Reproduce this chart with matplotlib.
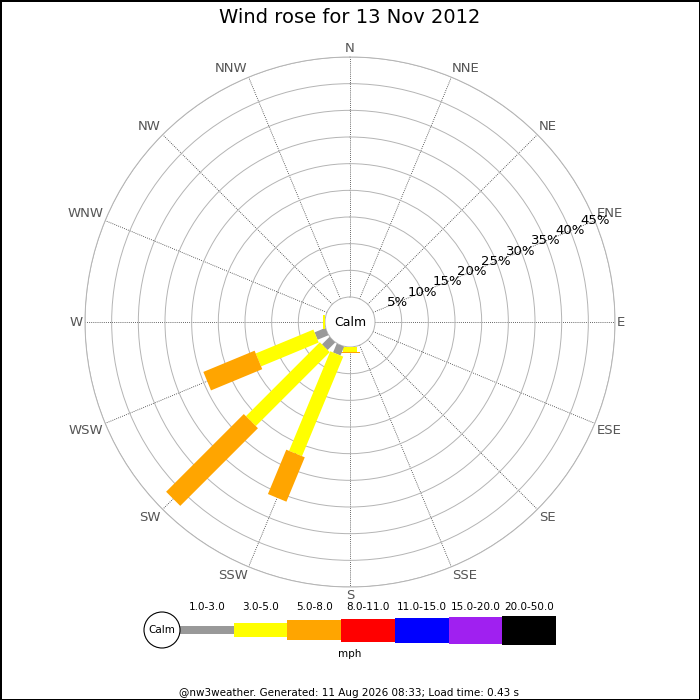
import numpy as np
import matplotlib.pyplot as plt
from matplotlib.patches import Circle

# 16 compass points, clockwise from north
directions = ["N", "NNE", "NE", "ENE", "E", "ESE", "SE", "SSE",
              "S", "SSW", "SW", "WSW", "W", "WNW", "NW", "NNW"]

# speed bands (mph) and their colours
bands = ["1.0-3.0", "3.0-5.0", "5.0-8.0", "8.0-11.0", "11.0-15.0", "15.0-20.0", "20.0-50.0"]
band_colors = ["#999999", "#ffff00", "#ffa500", "#ff0000", "#0000ff", "#a020f0", "#000000"]
band_px = [8, 14, 20, 23, 25, 27, 29]  # drawn thickness of each band

# percentage of the day in each band per direction (only non-zero ones listed)
pct_1_3 = {"SSW": 1.8, "SW": 2.0, "WSW": 2.2}
pct_3_5 = {"S": 1.0, "SSW": 20.2, "SW": 19.6, "WSW": 11.7, "W": 0.3}
pct_5_8 = {"S": 0.2, "SSW": 9.0, "SW": 20.6, "WSW": 10.4}
band_pcts = [pct_1_3, pct_3_5, pct_5_8]

rings = [5, 10, 15, 20, 25, 30, 35, 40, 45]

title = "Wind rose for 13 Nov 2012"
footer = "@nw3weather. Generated: 11 Aug 2026 08:33; Load time: 0.43 s"

fig = plt.figure(figsize=(7, 7), dpi=100)
fig.patch.set_edgecolor("black")
fig.patch.set_linewidth(2)

ax = fig.add_axes([85 / 700, 113 / 700, 530 / 700, 530 / 700], projection="polar")
ax.set_theta_zero_location("N")
ax.set_theta_direction(-1)
ax.set_ylim(0, 45)
ax.set_rorigin(-25 / (240 / 45))

angles = np.deg2rad(np.arange(16) * 22.5)
ax.set_xticks(angles)
ax.set_xticklabels([])
ax.set_yticks(rings)
ax.set_yticklabels([])
ax.xaxis.grid(True, color="#333333", linestyle=(0, (1, 1.5)), linewidth=0.6)
ax.yaxis.grid(True, color="#b4b4b4", linestyle="-", linewidth=0.7)
for s in ax.spines.values():
    s.set_color("#b4b4b4")
    s.set_linewidth(0.7)

# stacked bars as thick radial strokes
for i, d in enumerate(directions):
    th = angles[i]
    base = 0.0
    for b, pcts in enumerate(band_pcts):
        v = pcts.get(d, 0.0)
        if v > 0:
            ax.plot([th, th], [base, base + v], color=band_colors[b],
                    linewidth=band_px[b] * 0.72, solid_capstyle="butt", zorder=3)
        base += v

# ring labels along ENE
for r in rings:
    ax.text(np.deg2rad(67.5), r, f"{r}%", ha="center", va="center",
            fontsize=9.5, color="black", zorder=4)

# compass labels
for i, d in enumerate(directions):
    th = angles[i]
    sx, cy = np.sin(th), np.cos(th)
    ha = "left" if sx > 0.1 else ("right" if sx < -0.1 else "center")
    va = "bottom" if cy > 0.1 else ("top" if cy < -0.1 else "center")
    ax.text(th, 45.4, d, ha=ha, va=va, fontsize=9.5, color="#555555", clip_on=False)

ax.text(0.5, 0.5, "Calm", transform=ax.transAxes, ha="center", va="center", fontsize=9)

fig.text(0.5, 1 - 17.5 / 700, title, ha="center", va="center", fontsize=14)

# legend strip in pixel coordinates
lg = fig.add_axes([0, 0, 1, 1], zorder=-1)
lg.set_xlim(0, 700)
lg.set_ylim(700, 0)
lg.axis("off")
x0, step = 180, 53.7
xs = [x0 + step * k for k in range(len(bands))]
lg.bar(xs, band_px, width=step, bottom=[630 - h / 2 for h in band_px],
       color=band_colors, align="edge")
for x, lab in zip(xs, bands):
    lg.text(x + step / 2, 607, lab, ha="center", va="center", fontsize=7.5)
lg.add_patch(Circle((162, 630), 18, facecolor="white", edgecolor="black", linewidth=0.8, zorder=3))
lg.text(162, 630, "Calm", ha="center", va="center", fontsize=7.5, zorder=4)
lg.text(350, 654, "mph", ha="center", va="center", fontsize=7.5)
lg.text(349, 693, footer, ha="center", va="center", fontsize=7.5)

fig.savefig("out.png", dpi=100)
